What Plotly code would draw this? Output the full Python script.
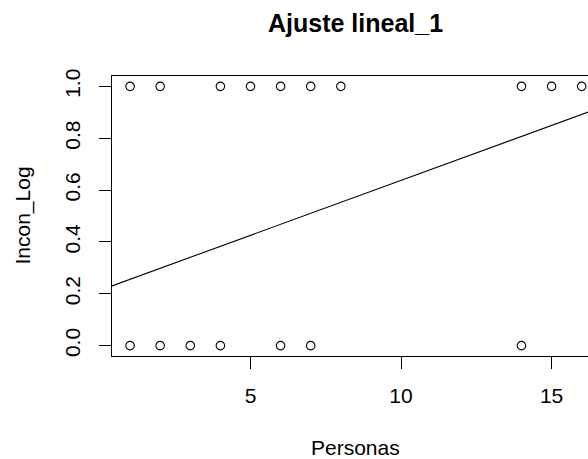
import plotly.graph_objects as go

# Observed outcomes (Incon_Log) against number of people (Personas)
personas_uno = [1, 2, 4, 5, 6, 7, 8, 14, 15, 16]
incon_uno = [1, 1, 1, 1, 1, 1, 1, 1, 1, 1]
personas_cero = [1, 2, 3, 4, 6, 7, 14]
incon_cero = [0, 0, 0, 0, 0, 0, 0]

# Fitted linear model coefficients
intercepto = 0.2136
pendiente = 0.04238

x_ticks = [5, 10, 15]
y_ticks = [0.0, 0.2, 0.4, 0.6, 0.8, 1.0]
y_tick_text = ["0.0", "0.2", "0.4", "0.6", "0.8", "1.0"]

# full x limits of the plotting region (4% padding around the data)
x_lim = (0.4, 16.6)
x_visible_end = 16.21
y_lim = (-0.04, 1.04)

FONT = "Liberation Sans, Arial, sans-serif"

fig = go.Figure()

fig.add_trace(go.Scatter(
    x=personas_uno + personas_cero,
    y=incon_uno + incon_cero,
    mode="markers",
    marker=dict(symbol="circle-open", size=8.5, color="black",
                line=dict(width=1.1, color="black")),
    showlegend=False, cliponaxis=False,
))

# abline across the whole plotting region
line_x = [x_lim[0], x_lim[1]]
line_y = [intercepto + pendiente * v for v in line_x]
fig.add_trace(go.Scatter(
    x=line_x, y=line_y, mode="lines",
    line=dict(color="black", width=1.1),
    showlegend=False,
))

fig.update_layout(
    width=588, height=459,
    margin=dict(l=112, r=0, t=76, b=103),
    paper_bgcolor="white", plot_bgcolor="white",
    font=dict(family=FONT, size=21, color="black"),
    xaxis=dict(
        range=[x_lim[0], x_visible_end],
        tickvals=x_ticks, ticktext=[str(v) for v in x_ticks],
        ticks="outside", ticklen=12, tickwidth=1, tickcolor="black",
        showline=True, linecolor="black", linewidth=1, mirror=True,
        showgrid=False, zeroline=False,
        ticklabelstandoff=9,
        tickfont=dict(family=FONT, size=21, color="black"),
    ),
    yaxis=dict(
        range=list(y_lim),
        tickvals=y_ticks, ticktext=y_tick_text, tickangle=-90,
        ticks="outside", ticklen=12, tickwidth=1, tickcolor="black",
        showline=True, linecolor="black", linewidth=1, mirror=False,
        showgrid=False, zeroline=False,
        ticklabelstandoff=11,
        tickfont=dict(family=FONT, size=21, color="black"),
    ),
    annotations=[
        dict(text="<b>Ajuste lineal_1</b>", xref="x", yref="paper",
             x=(x_lim[0] + x_lim[1]) / 2, y=1.19, showarrow=False,
             xanchor="center", yanchor="middle",
             font=dict(family=FONT, size=25, color="black")),
        dict(text="Personas", xref="x", yref="paper",
             x=(x_lim[0] + x_lim[1]) / 2, y=-0.325, showarrow=False,
             xanchor="center", yanchor="middle",
             font=dict(family=FONT, size=21, color="black")),
        dict(text="Incon_Log", xref="paper", yref="paper",
             x=-0.188, y=0.5, showarrow=False, textangle=-90,
             xanchor="center", yanchor="middle",
             font=dict(family=FONT, size=21, color="black")),
    ],
)

fig.write_html("out.html")
